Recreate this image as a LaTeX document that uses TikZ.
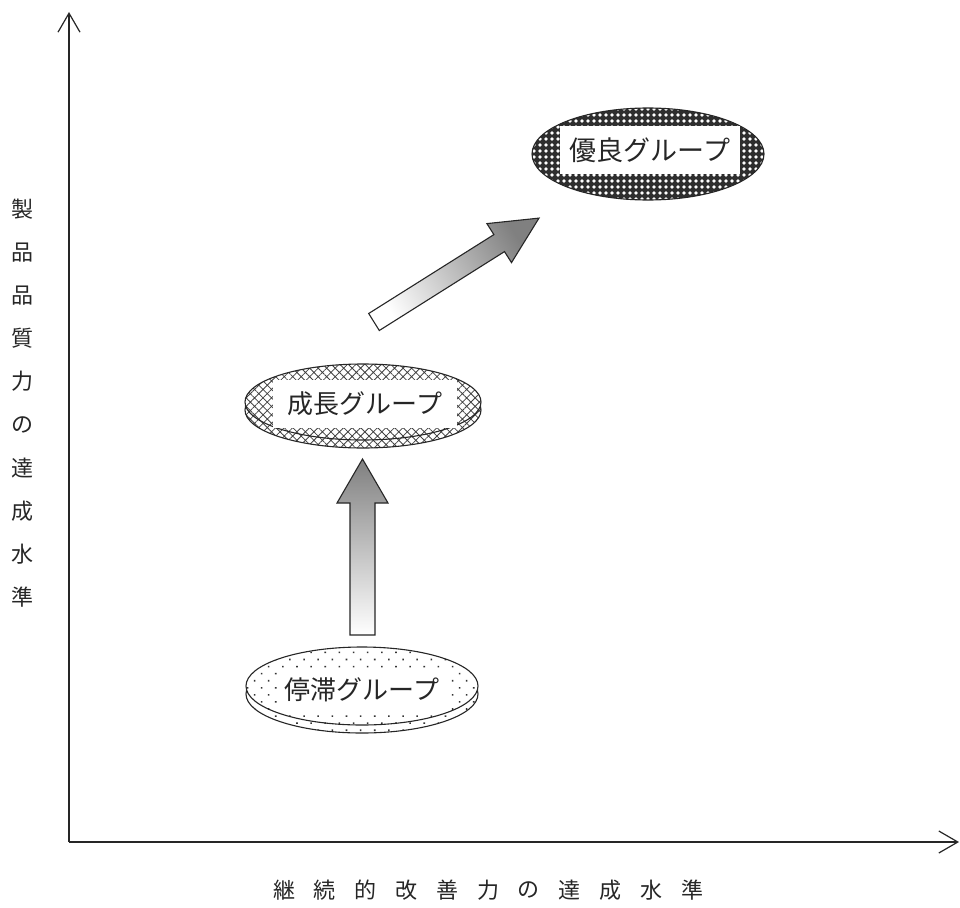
\documentclass[tikz,border=0pt]{standalone}
\usepackage{fontspec}
\newfontfamily\cjk{Noto Sans CJK JP}
\usetikzlibrary{shapes.geometric,patterns.meta,arrows.meta,calc}
\begin{document}
\begin{tikzpicture}[x=1pt,y=-1pt,
  axisline/.style={draw=black!85,line width=1.3pt},
  barb/.style={-{Straight Barb[length=19pt,width=22pt,line width=1.2pt]}},
  disc/.style={ellipse,draw=black!85,line width=1.1pt,inner sep=0pt},
  lowdots/.style={pattern={Dots[distance=10pt,radius=1.1pt,angle=45]},pattern color=black!80},
  midhatch/.style={pattern={Hatch[angle=45,distance=6pt,line width=0.8pt]},pattern color=black!75},
  label/.style={font=\cjk\fontsize{26}{30}\selectfont,fill=white,inner sep=0pt,text=black!85},
  blockarrow/.style={draw=black!85,line width=1.1pt,line join=miter},
  axislabel/.style={font=\cjk\fontsize{22}{26}\selectfont,text=black!85,inner sep=0pt}
]
\useasboundingbox (0,0) rectangle (960,907);
\fill[white] (0,0) rectangle (960,907);

% axes
\coordinate (O) at (69,842);
\coordinate (ytip) at (69,12);
\coordinate (xtip) at (959,842);
\draw[axisline,barb] (O) -- (ytip);
\draw[axisline,barb] (O) -- (xtip);

% y label
\node[axislabel,align=center,font=\cjk\fontsize{22}{43.1}\selectfont] (ylab) at (22,403)
  {製\\品\\品\\質\\力\\の\\達\\成\\水\\準};
% x label
\foreach \c [count=\i from 0] in {継,続,的,改,善,力,の,達,成,水,準}
  \node[axislabel] (xl\i) at (284+40.8*\i,890) {\c};

% stagnant group
\node[disc,lowdots,minimum width=232pt,minimum height=78pt] (stagrim) at (362,694) {};
\node[disc,lowdots,preaction={fill=white},minimum width=232pt,minimum height=78pt] (stag) at (362,686) {};
\node[label,minimum width=170pt,minimum height=44pt] (staglab) at (362,690) {停滞グループ};

% growth group
\node[disc,midhatch,minimum width=236pt,minimum height=76pt] (growrim) at (363,410) {};
\node[disc,midhatch,preaction={fill=white},minimum width=236pt,minimum height=76pt] (grow) at (363,402) {};
\node[label,minimum width=184pt,minimum height=48pt] (growlab) at (365,404) {成長グループ};

% excellent group
\node[disc,preaction={fill=black!82},pattern={Dots[distance=6pt,radius=1.8pt]},pattern color=white,
      minimum width=232pt,minimum height=92pt] (good) at (648,154) {};
\node[label,font=\cjk\fontsize{27}{30}\selectfont,minimum width=180pt,minimum height=48pt] (goodlab) at (650,150) {優良グループ};

% vertical block arrow
\draw[blockarrow,top color=black!50,bottom color=white]
  (350,635) -- (350,503) -- (337,503) -- (362.5,459) -- (388,503) -- (375,503) -- (375,635) -- cycle;

% diagonal block arrow
\draw[blockarrow,top color=black!50,bottom color=white,shading angle=-58]
  (368.7,313.5) -- (493.9,234.6) -- (486.9,223.6) -- (539,218.1) -- (511.5,262.6) -- (504.5,251.6) -- (379.3,330.5) -- cycle;
\end{tikzpicture}
\end{document}
